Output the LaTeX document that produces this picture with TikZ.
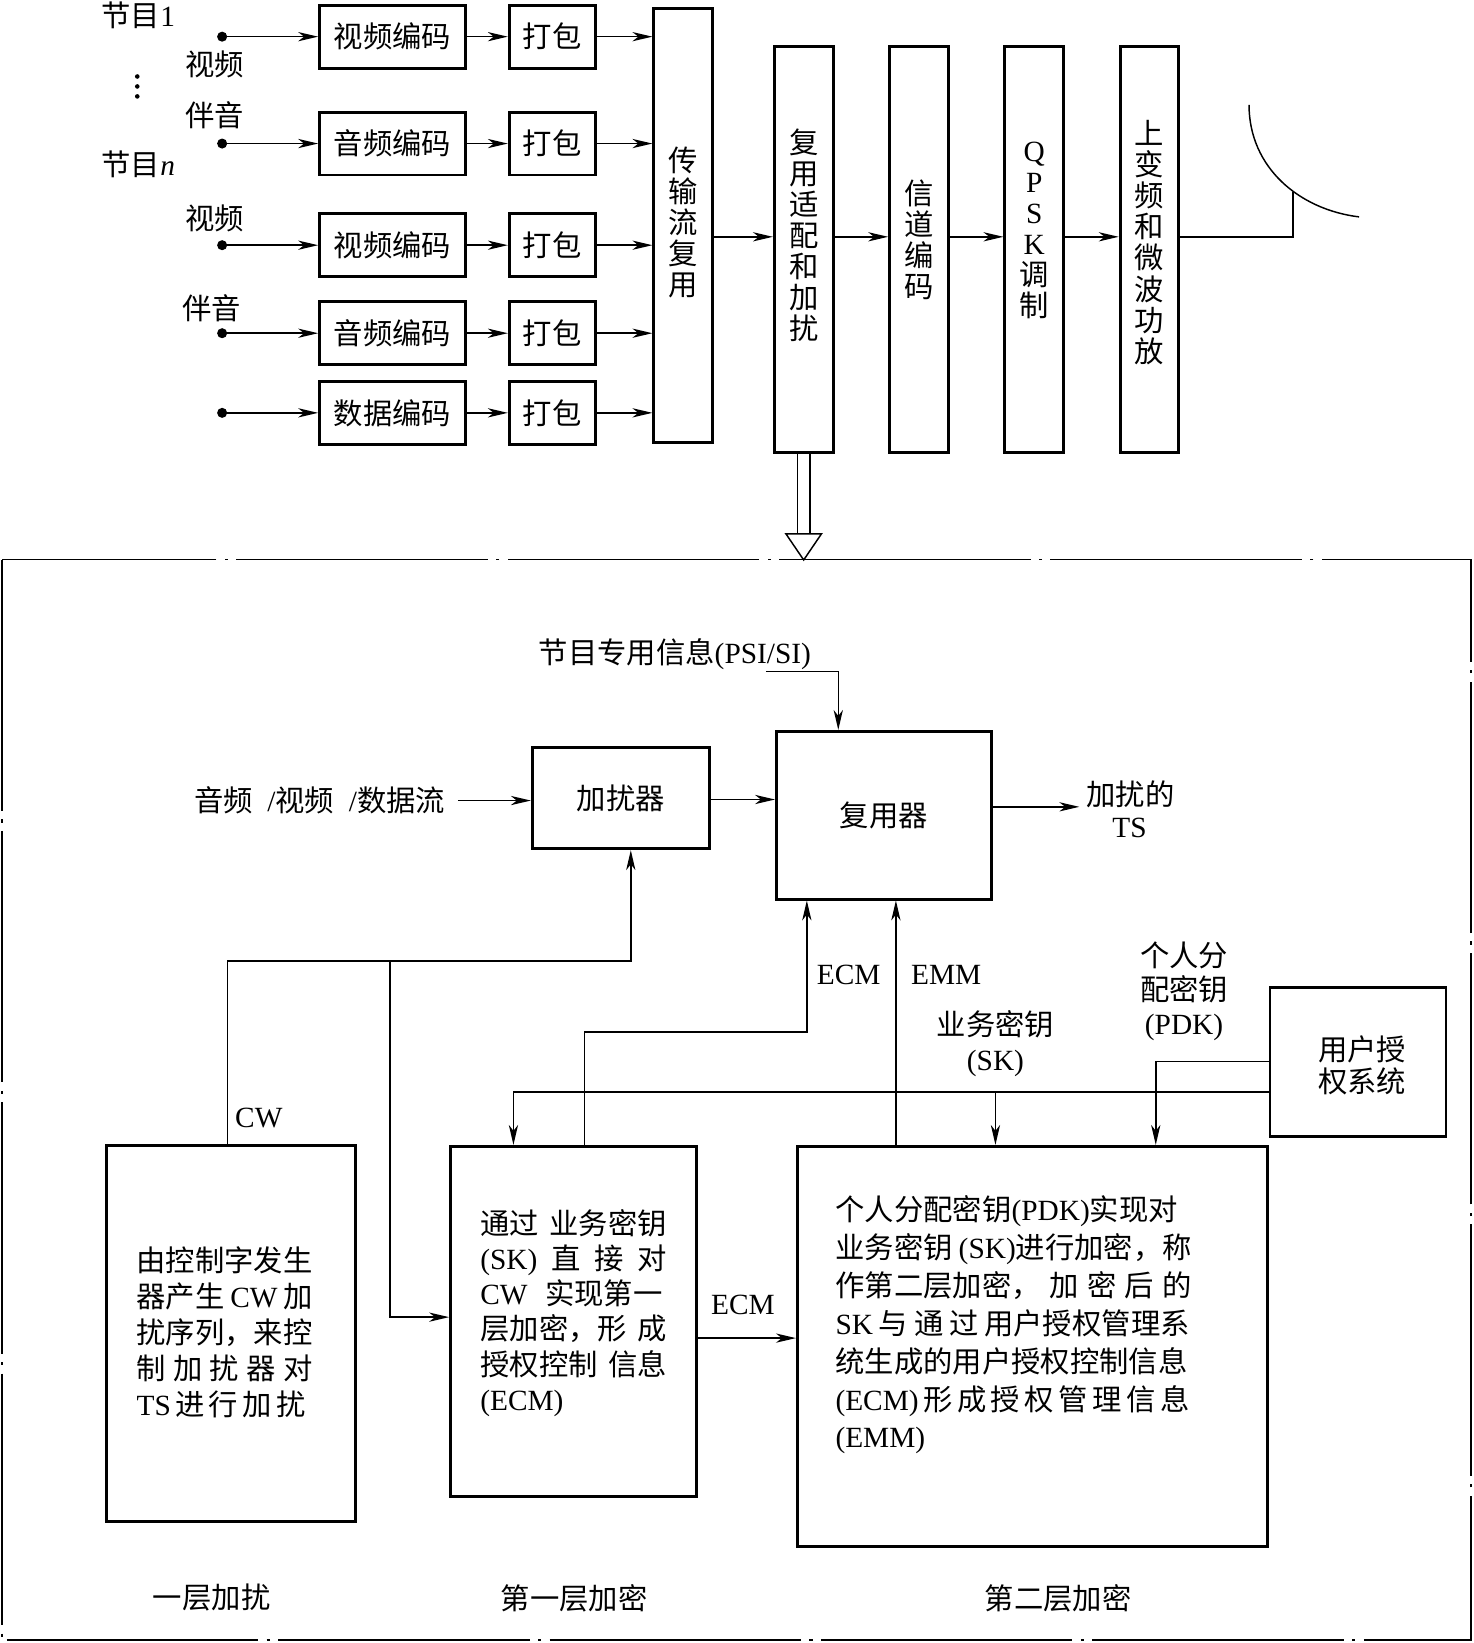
\documentclass[tikz,border=0pt]{standalone}
\usepackage{fontspec}
\setmainfont{Noto Sans CJK SC}
\newfontfamily\en{Liberation Serif}
\newcommand\E[1]{{\en #1}}
\usetikzlibrary{arrows.meta,calc}
\begin{document}
\begin{tikzpicture}[x=0.5pt,y=-0.5pt,
  tx/.style={font=\fontsize{14}{17}\selectfont, inner sep=0pt, align=center},
  blk/.style={draw, line width=1.4pt, inner sep=0pt, tx},
  con/.style={line width=0.7pt},
  arr/.style={con, -{Stealth[length=9.5pt,width=4.4pt,inset=2.8pt]}},
  vt/.style={tx, font=\fontsize{14}{14.8}\selectfont},
  enc/.style={blk, minimum width=69.5pt, minimum height=30pt},
  pak/.style={blk, minimum width=41pt, minimum height=30pt},
  tall/.style={blk, minimum width=28pt, minimum height=194pt},
  src/.style={circle, fill, inner sep=0pt, minimum size=4.8pt},
  dashframe/.style={line width=0.9pt, dash pattern=on 120pt off 4pt on 1.5pt off 4pt},
]
\useasboundingbox (0,0) rectangle (1406,1568);

% ---------------- top chain ----------------
\node[tx] (g1) at (132,15) {节目\E{1}};
\node[tx] (v1) at (205,61) {视频};
\foreach \k in {0,1,2} \fill (131,73+\k*9.5) circle (1.1pt);
\node[tx] (a1) at (205,110) {伴音};
\node[tx] (gn) at (132,157) {节目\E{\itshape n}};
\node[tx] (v2) at (205,208) {视频};
\node[tx] (a2) at (202,294) {伴音};

\node[blk, minimum width=28pt, minimum height=207pt] (ts) at (652,215.5) {};
\node[vt] (tsT) at (652,212) {传\\输\\流\\复\\用};

\foreach \i/\y/\txt in {1/35/视频编码, 2/137/音频编码, 3/234/视频编码, 4/318/音频编码, 5/394/数据编码} {
  \node[enc] (e\i) at (374.5,\y) {\txt};
  \node[pak] (p\i) at (527,\y) {打包};
  \node[src] (s\i) at (212,\y) {};
  \draw[arr] (s\i.center) -- (e\i);
  \draw[arr] (e\i) -- (p\i);
  \draw[arr] (p\i) -- (p\i.east -| ts.west);
}

\node[tall] (ma) at (767,238) {};
\node[vt] (maT) at (767,224.5) {复\\用\\适\\配\\和\\加\\扰};
\node[tall] (cc) at (877,238) {};
\node[vt] (ccT) at (877,229) {信\\道\\编\\码};
\node[tall] (qp) at (987,238) {};
\node[vt] (qpT) at (987,219.5) {\E{Q}\\\E{P}\\\E{S}\\\E{K}\\调\\制};
\node[tall] (up) at (1097,238) {};
\node[vt] (upT) at (1097,231.5) {上\\变\\频\\和\\微\\波\\功\\放};

\coordinate (ch) at (0,226);
\draw[arr] (ts.east |- ch) -- (ma.west |- ch);
\draw[arr] (ma.east |- ch) -- (cc.west |- ch);
\draw[arr] (cc.east |- ch) -- (qp.west |- ch);
\draw[arr] (qp.east |- ch) -- (up.west |- ch);
\coordinate (feed) at (1234,183);
\draw[con] (up.east |- ch) -- (feed |- ch) -- (feed);
\coordinate (dA) at (1192,100);
\coordinate (dB) at (1297,207);
\draw[con] (dA) .. controls (1192,160) and (1240,200) .. (dB);

% double arrow
\coordinate (dbl) at (ma.south);
\draw[con] ($(dbl)+(-6,0)$) -- ++(0,76);
\draw[con] ($(dbl)+(6,0)$) -- ++(0,76);
\draw[con, fill=white] ($(dbl)+(-17,76)$) -- ($(dbl)+(17,76)$) -- ($(dbl)+(0,101)$) -- cycle;

% frame
\draw[dashframe] (1.5,534) rectangle (1404,1565);

% ---------------- lower section ----------------
\node[tx] (psi) at (644,624) {节目专用信息\E{(PSI/SI)}};
\coordinate (psiA) at (731,641);
\coordinate (psiB) at (800,641);
\node[blk, minimum width=102.5pt, minimum height=80pt] (mux) at (843.5,778) {复用器};
\draw[arr] (psiA) -- (psiB) -- (psiB |- mux.north);

\node[blk, minimum width=84.5pt, minimum height=48.5pt] (scr) at (592.5,761.5) {加扰器};
\node[tx] (inT) at (305,764) {音频\hspace{7pt}\E{/}视频\hspace{7pt}\E{/}数据流};
\coordinate (inA) at (437,764);
\draw[arr] (inA) -- (inA -| scr.west);
\coordinate (rowA) at (0,763);
\draw[arr] (scr.east |- rowA) -- (mux.west |- rowA);
\coordinate (outE) at (1030,770);
\draw[arr] (mux.east |- outE) -- (outE);
\node[tx] (tsA) at (1079,758) {加扰的};
\node[tx] (tsB) at (1078,790) {\E{TS}};

\node[blk, minimum width=118.5pt, minimum height=179.5pt] (l1) at (220.5,1272.5) {};
\node[blk, minimum width=117.5pt, minimum height=167pt] (l2) at (547.5,1261) {};
\node[blk, minimum width=224.5pt, minimum height=191pt] (l3) at (985.5,1285) {};
\node[blk, minimum width=84pt, minimum height=71.5pt] (ua) at (1296,1013.5) {};

\node[tx, align=left, anchor=west, font=\fontsize{14}{17.25}\selectfont] (l1T) at (130,1271.5)
 {由控制字发生\\\makebox[84pt][s]{器产生 \E{CW} 加}\\扰序列，来控\\\makebox[84pt][s]{制 加 扰 器 对}\\\makebox[79pt][s]{\E{TS} 进 行 加 扰}};

\node[tx, align=left, anchor=west, font=\fontsize{14}{16.8}\selectfont] (l2T) at (458,1253)
 {\makebox[89pt][s]{通过 业务密钥}\\\makebox[89pt][s]{\E{(SK)} 直 接 对}\\\makebox[87pt][s]{\E{CW} 实现第一}\\\makebox[89pt][s]{层加密，形 成}\\\makebox[89pt][s]{授权控制 信息}\\\E{(ECM)}};

\node[tx, align=left, anchor=west, font=\fontsize{14}{18.05}\selectfont] (l3T) at (797,1264.5)
 {个人分配密钥\E{(PDK)}实现对\\
  \makebox[170pt][s]{业务密钥 \E{(SK)}进行加密，称}\\
  \makebox[170pt][s]{作第二层加密， 加 密 后 的}\\
  \makebox[169pt][s]{\E{SK} 与 通 过 用户授权管理系}\\
  统生成的用户授权控制信息\\
  \makebox[169pt][s]{\E{(ECM)} 形 成 授 权 管 理 信 息}\\
  \E{(EMM)}};

\node[tx, font=\fontsize{14}{15.5}\selectfont] (uaT) at (1300,1016.5) {用户授\\权系统};

% CW
\coordinate (cwL) at (217,917);
\coordinate (cwR) at (602,917);
\coordinate (cwM) at (372,917);
\coordinate (cwB) at (372,1257);
\draw[arr] (cwL |- l1.north) -- (cwL) -- (cwR) -- (cwR |- scr.south);
\draw[arr] (cwM) -- (cwB) -- (cwB -| l2.west);
\node[tx] (cwT) at (247,1067) {\E{CW}};

% ECM / EMM up
\coordinate (ecA) at (558,985);
\coordinate (ecB) at (770,985);
\draw[arr] (ecA |- l2.north) -- (ecA) -- (ecB) -- (ecB |- mux.south);
\coordinate (emA) at (855,1000);
\draw[arr] (emA |- l3.north) -- (emA |- mux.south);
\node[tx] (ecmT) at (810,930) {\E{ECM}};
\node[tx] (emmT) at (903,930) {\E{EMM}};

% SK / PDK
\coordinate (skL) at (490,1042);
\coordinate (skM) at (950,1042);
\draw[arr] (ua.west |- skL) -- (skL) -- (skL |- l2.north);
\draw[arr] (skM) -- (skM |- l3.north);
\coordinate (pdA) at (1103,1013);
\draw[arr] (ua.west |- pdA) -- (pdA) -- (pdA |- l3.north);
\node[tx, font=\fontsize{14}{16.5}\selectfont] (skT) at (950,996) {业务密钥\\\E{(SK)}};
\node[tx, font=\fontsize{14}{16}\selectfont] (pdT) at (1130,946) {个人分\\配密钥\\\E{(PDK)}};

% ECM between layers
\coordinate (e2A) at (0,1277);
\draw[arr] (l2.east |- e2A) -- (l3.west |- e2A);
\node[tx] (ecm2T) at (709,1245) {\E{ECM}};

% bottom labels
\node[tx] (b1) at (202,1525) {一层加扰};
\node[tx] (b2) at (548,1525) {第一层加密};
\node[tx] (b3) at (1010,1525) {第二层加密};
\end{tikzpicture}
\end{document}
